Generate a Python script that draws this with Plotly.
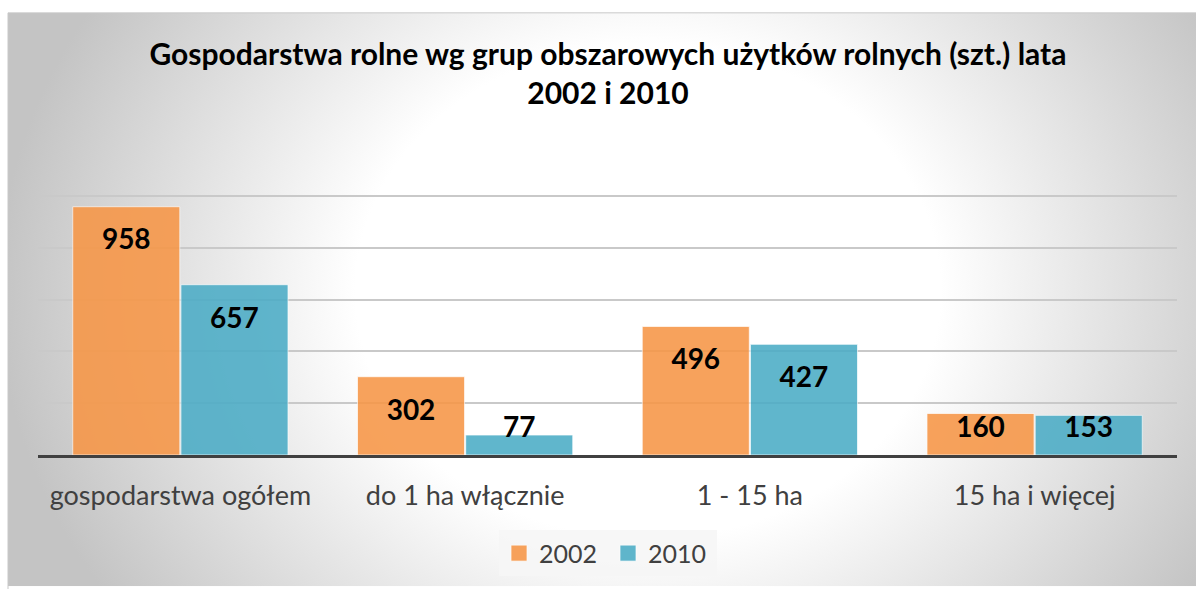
import base64
import plotly.graph_objects as go

categories = ["gospodarstwa ogółem", "do 1 ha włącznie", "1 - 15 ha", "15 ha i więcej"]
years = ["2002", "2010"]
values_2002 = [958, 302, 496, 160]
values_2010 = [657, 77, 427, 153]
y_ticks = [0, 200, 400, 600, 800, 1000, 1200]
title_text = "Gospodarstwa rolne wg grup obszarowych użytków rolnych (szt.) lata<br>2002 i 2010"

W, H = 1196, 589
L, R, T, B = 38, 19, 144, 132
plot_w = W - L - R
plot_h = H - T - B
ymax = y_ticks[-1]
px_per_unit = plot_h / ymax

colors = ["#F79646", "#4BACC6"]
bar_w = 0.376
offsets = [-bar_w / 2 - 0.002, bar_w / 2 + 0.002]
xs = list(range(len(categories)))

fig = go.Figure()

# background radial gradient (Excel style) as an SVG image
svg = '''<svg xmlns="http://www.w3.org/2000/svg" width="1188" height="577" viewBox="0 0 1188 577" preserveAspectRatio="none">
<defs><radialGradient id="g" gradientUnits="userSpaceOnUse" cx="640" cy="280" r="650"
 gradientTransform="translate(640 280) scale(1 0.85) translate(-640 -280)">
<stop offset="0" stop-color="#ffffff"/><stop offset="0.45" stop-color="#ffffff"/>
<stop offset="1" stop-color="#c4c4c4"/></radialGradient></defs>
<rect x="0" y="0" width="1188" height="577" fill="url(#g)"/></svg>'''
src = "data:image/svg+xml;base64," + base64.b64encode(svg.encode()).decode()
x0_paper = (8 - L) / plot_w
y_top_paper = 1 + (T - 12) / plot_h
fig.add_layout_image(dict(source=src, xref="paper", yref="paper", x=x0_paper, y=y_top_paper,
                          sizex=(W - 8) / plot_w, sizey=(H - 12) / plot_h, sizing="stretch",
                          xanchor="left", yanchor="top", layer="below"))

for name, vals, col, off in zip(years, [values_2002, values_2010], colors, offsets):
    fig.add_trace(go.Bar(
        x=[x + off for x in xs], y=vals, width=bar_w, name=name, showlegend=False,
        legendgroup=name,
        marker=dict(color=col, opacity=0.88, line=dict(color="rgba(255,255,255,0.7)", width=1)),
        hoverinfo="y",
    ))

# legend entries with larger square swatches
for name, col in zip(years, colors):
    fig.add_trace(go.Scatter(
        x=[None], y=[None], mode="markers", name=name, legendgroup=name,
        marker=dict(symbol="square", size=17, color=col, opacity=0.88,
                    line=dict(color="rgba(255,255,255,0.7)", width=1)),
    ))

# data labels (inside end, clamped for short bars)
for vals, off in zip([values_2002, values_2010], offsets):
    label_y = [max(v - 36 / px_per_unit, 25 / px_per_unit) for v in vals]
    fig.add_trace(go.Scatter(
        x=[x + off for x in xs], y=label_y, mode="text", text=[str(v) for v in vals],
        textposition="middle center", showlegend=False, hoverinfo="skip",
        textfont=dict(family="Lato", size=28, color="#000000", weight="bold"),
    ))

fig.update_layout(
    width=W, height=H,
    margin=dict(l=L, r=R, t=T, b=B, pad=0),
    paper_bgcolor="#ffffff", plot_bgcolor="rgba(0,0,0,0)",
    font=dict(family="Lato", color="#404040"),
    title=dict(text=title_text, x=608 / W, xanchor="center", y=1 - 65 / H, yanchor="middle",
               yref="container",
               font=dict(family="Lato", size=30, color="#000000", weight="bold")),
    barmode="overlay",
    showlegend=True,
    legend=dict(orientation="h", x=(608 - L) / plot_w, xanchor="center",
                y=(457 - 556) / plot_h, yanchor="middle",
                bgcolor="rgba(246,246,246,0.85)", font=dict(family="Lato", size=25, color="#404040"),
                itemwidth=30, entrywidth=64, borderwidth=0),
    shapes=[dict(type="rect", xref="paper", yref="paper", x0=x0_paper, x1=1 + (R + 5) / plot_w,
                 y0=-(B + 5) / plot_h, y1=y_top_paper, line=dict(color="#c8c8c8", width=1),
                 fillcolor="rgba(0,0,0,0)", layer="below")],
)

fig.update_xaxes(
    range=[-0.5, len(categories) - 0.5], tickmode="array", tickvals=xs, ticktext=categories,
    showgrid=False, zeroline=False, showline=True, linecolor="#404040", linewidth=3,
    ticks="", tickfont=dict(family="Lato", size=27, color="#404040"), ticklabelstandoff=15,
    fixedrange=True,
)
fig.update_yaxes(
    range=[0, ymax], tickmode="array", tickvals=y_ticks, showticklabels=False,
    showgrid=True, gridcolor="#c9c9c9", gridwidth=1.5, zeroline=False, fixedrange=True,
)

fig.write_html("out.html", config={"displayModeBar": False},
               post_script="document.body.style.margin='0';")
